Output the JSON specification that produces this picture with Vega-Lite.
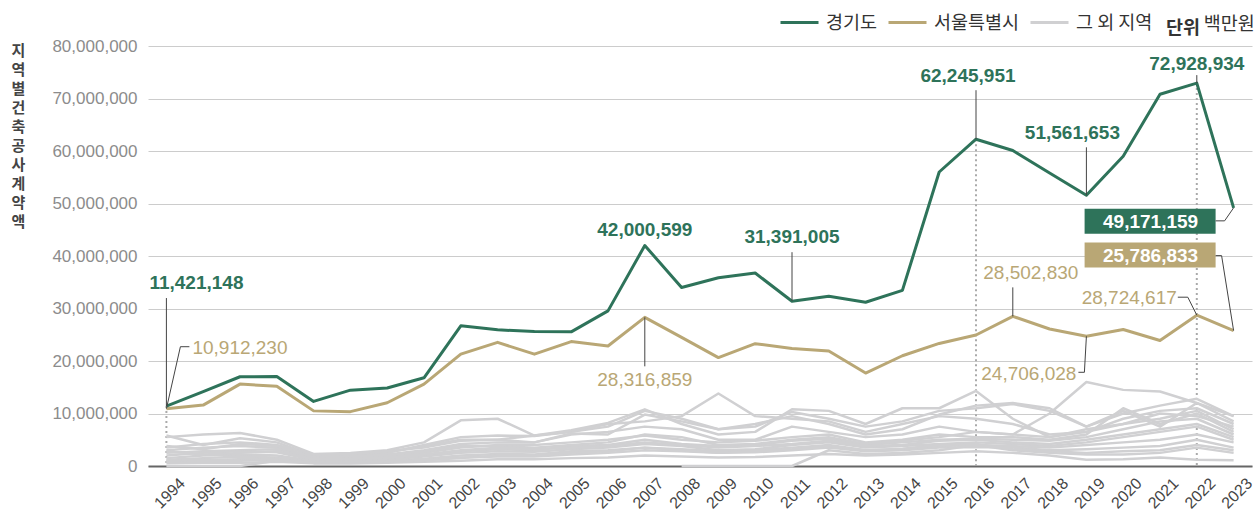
{
  "$schema": "https://vega.github.io/schema/vega-lite/v6.json",
  "width": 1104,
  "height": 420,
  "autosize": {"type": "none"},
  "padding": {"left": 148, "top": 46, "right": 8, "bottom": 45},
  "background": "white",
  "title": {"text": "백만원", "anchor": "end", "orient": "top", "font": "Noto Sans CJK KR", "fontSize": 18.5, "fontWeight": "normal", "color": "#333333", "offset": 14, "dy": 45},
  "config": {
    "view": {"stroke": null},
    "font": "Liberation Sans"
  },
  "datasets": {
    "d": [
      {"year": 1994, "gg": 11421148, "seoul": 10912230, "r1": 5500000, "r2": 3000000, "r3": 5800000, "r4": 2500000, "r5": 3500000, "r6": 2000000, "r7": 1500000, "r8": 1200000, "r9": 3800000, "r10": 2800000, "r11": 1000000, "r12": 800000, "r13": 500000, "r14": null, "r15": 0},
      {"year": 1995, "gg": 14150000, "seoul": 11600000, "r1": 6000000, "r2": 3500000, "r3": 4000000, "r4": 2800000, "r5": 4200000, "r6": 2500000, "r7": 2000000, "r8": 1500000, "r9": 3200000, "r10": 2200000, "r11": 1200000, "r12": 900000, "r13": 600000, "r14": null, "r15": 0},
      {"year": 1996, "gg": 17000000, "seoul": 15600000, "r1": 6300000, "r2": 3800000, "r3": 5300000, "r4": 3000000, "r5": 4500000, "r6": 2800000, "r7": 2200000, "r8": 1800000, "r9": 4200000, "r10": 2500000, "r11": 1300000, "r12": 1000000, "r13": 600000, "r14": null, "r15": 0},
      {"year": 1997, "gg": 17050000, "seoul": 15200000, "r1": 5000000, "r2": 3500000, "r3": 4500000, "r4": 3200000, "r5": 4000000, "r6": 2600000, "r7": 2000000, "r8": 1600000, "r9": 3800000, "r10": 2800000, "r11": 1400000, "r12": 1200000, "r13": 800000, "r14": null, "r15": 1000000},
      {"year": 1998, "gg": 12300000, "seoul": 10500000, "r1": 2300000, "r2": 1800000, "r3": 2000000, "r4": 1500000, "r5": 2200000, "r6": 1200000, "r7": 1000000, "r8": 800000, "r9": 1600000, "r10": 1300000, "r11": 700000, "r12": 600000, "r13": 500000, "r14": null, "r15": 600000},
      {"year": 1999, "gg": 14450000, "seoul": 10350000, "r1": 2500000, "r2": 2000000, "r3": 2200000, "r4": 1800000, "r5": 2300000, "r6": 1500000, "r7": 1200000, "r8": 1000000, "r9": 1800000, "r10": 1400000, "r11": 800000, "r12": 700000, "r13": 500000, "r14": null, "r15": 700000},
      {"year": 2000, "gg": 14850000, "seoul": 12050000, "r1": 3000000, "r2": 2500000, "r3": 2600000, "r4": 2200000, "r5": 2800000, "r6": 1800000, "r7": 1500000, "r8": 1200000, "r9": 2000000, "r10": 1600000, "r11": 1000000, "r12": 900000, "r13": 600000, "r14": null, "r15": 900000},
      {"year": 2001, "gg": 16800000, "seoul": 15600000, "r1": 4500000, "r2": 4000000, "r3": 3800000, "r4": 3000000, "r5": 3500000, "r6": 2500000, "r7": 2000000, "r8": 1800000, "r9": 2800000, "r10": 2200000, "r11": 1400000, "r12": 1200000, "r13": 800000, "r14": null, "r15": 1100000},
      {"year": 2002, "gg": 26700000, "seoul": 21300000, "r1": 8700000, "r2": 5500000, "r3": 5000000, "r4": 4200000, "r5": 4800000, "r6": 3500000, "r7": 2800000, "r8": 2500000, "r9": 3800000, "r10": 3000000, "r11": 2000000, "r12": 1600000, "r13": 1000000, "r14": null, "r15": 1500000},
      {"year": 2003, "gg": 25950000, "seoul": 23550000, "r1": 9000000, "r2": 5800000, "r3": 5000000, "r4": 4500000, "r5": 5000000, "r6": 4000000, "r7": 3200000, "r8": 2800000, "r9": 3800000, "r10": 3500000, "r11": 2300000, "r12": 1800000, "r13": 1300000, "r14": null, "r15": 2000000},
      {"year": 2004, "gg": 25600000, "seoul": 21300000, "r1": 5800000, "r2": 5700000, "r3": 5800000, "r4": 4500000, "r5": 4500000, "r6": 4000000, "r7": 3000000, "r8": 2700000, "r9": 3500000, "r10": 3200000, "r11": 2200000, "r12": 1800000, "r13": 1300000, "r14": null, "r15": 2000000},
      {"year": 2005, "gg": 25550000, "seoul": 23700000, "r1": 6500000, "r2": 6500000, "r3": 6800000, "r4": 6000000, "r5": 6200000, "r6": 4500000, "r7": 3800000, "r8": 3200000, "r9": 4000000, "r10": 3500000, "r11": 2800000, "r12": 2200000, "r13": 1500000, "r14": null, "r15": 2500000},
      {"year": 2006, "gg": 29550000, "seoul": 22850000, "r1": 7500000, "r2": 8000000, "r3": 8200000, "r4": 6500000, "r5": 6000000, "r6": 5000000, "r7": 4000000, "r8": 3500000, "r9": 4500000, "r10": 3800000, "r11": 3000000, "r12": 2500000, "r13": 1600000, "r14": null, "r15": 2800000},
      {"year": 2007, "gg": 42000599, "seoul": 28316859, "r1": 10500000, "r2": 8500000, "r3": 10800000, "r4": 7500000, "r5": 9800000, "r6": 5800000, "r7": 5000000, "r8": 4200000, "r9": 6000000, "r10": 4500000, "r11": 3500000, "r12": 3000000, "r13": 2000000, "r14": null, "r15": 3500000},
      {"year": 2008, "gg": 34000000, "seoul": 24500000, "r1": 9000000, "r2": 9500000, "r3": 8000000, "r4": 7000000, "r5": 8500000, "r6": 5000000, "r7": 4200000, "r8": 3800000, "r9": 5500000, "r10": 4000000, "r11": 3200000, "r12": 2800000, "r13": 1800000, "r14": 0, "r15": 3000000},
      {"year": 2009, "gg": 35850000, "seoul": 20650000, "r1": 7000000, "r2": 13800000, "r3": 6000000, "r4": 5000000, "r5": 7000000, "r6": 4500000, "r7": 3800000, "r8": 3000000, "r9": 4000000, "r10": 3500000, "r11": 2800000, "r12": 2500000, "r13": 1600000, "r14": 0, "r15": 2500000},
      {"year": 2010, "gg": 36750000, "seoul": 23300000, "r1": 7500000, "r2": 9500000, "r3": 6500000, "r4": 5000000, "r5": 8000000, "r6": 4800000, "r7": 4000000, "r8": 3200000, "r9": 4200000, "r10": 3800000, "r11": 3000000, "r12": 2600000, "r13": 1700000, "r14": 0, "r15": 2800000},
      {"year": 2011, "gg": 31391005, "seoul": 22400000, "r1": 10300000, "r2": 9000000, "r3": 10800000, "r4": 7500000, "r5": 9500000, "r6": 5500000, "r7": 4800000, "r8": 4000000, "r9": 5000000, "r10": 4200000, "r11": 3500000, "r12": 3000000, "r13": 2000000, "r14": 0, "r15": 3200000},
      {"year": 2012, "gg": 32350000, "seoul": 21900000, "r1": 9000000, "r2": 8500000, "r3": 10500000, "r4": 6500000, "r5": 8000000, "r6": 6000000, "r7": 5200000, "r8": 4500000, "r9": 5500000, "r10": 4800000, "r11": 4000000, "r12": 3500000, "r13": 2300000, "r14": 3000000, "r15": 3800000},
      {"year": 2013, "gg": 31200000, "seoul": 17700000, "r1": 7500000, "r2": 6500000, "r3": 8000000, "r4": 5500000, "r5": 6000000, "r6": 4500000, "r7": 4000000, "r8": 3500000, "r9": 4200000, "r10": 3800000, "r11": 3000000, "r12": 2800000, "r13": 2000000, "r14": 2300000, "r15": 3000000},
      {"year": 2014, "gg": 33450000, "seoul": 21000000, "r1": 8500000, "r2": 8000000, "r3": 11000000, "r4": 6000000, "r5": 7000000, "r6": 5000000, "r7": 4500000, "r8": 3800000, "r9": 4800000, "r10": 4000000, "r11": 3200000, "r12": 3000000, "r13": 2200000, "r14": 2500000, "r15": 3300000},
      {"year": 2015, "gg": 56000000, "seoul": 23350000, "r1": 10500000, "r2": 9500000, "r3": 11000000, "r4": 7500000, "r5": 9800000, "r6": 6000000, "r7": 5000000, "r8": 4200000, "r9": 5500000, "r10": 4800000, "r11": 3800000, "r12": 3500000, "r13": 2500000, "r14": 3000000, "r15": 4000000},
      {"year": 2016, "gg": 62245951, "seoul": 24950000, "r1": 11000000, "r2": 9000000, "r3": 14300000, "r4": 6500000, "r5": 11500000, "r6": 5500000, "r7": 5200000, "r8": 4500000, "r9": 6500000, "r10": 5000000, "r11": 4000000, "r12": 3600000, "r13": 2800000, "r14": 4000000, "r15": 4200000},
      {"year": 2017, "gg": 60100000, "seoul": 28502830, "r1": 11800000, "r2": 8000000, "r3": 9000000, "r4": 6000000, "r5": 12000000, "r6": 5500000, "r7": 5000000, "r8": 4200000, "r9": 6000000, "r10": 4500000, "r11": 3800000, "r12": 3500000, "r13": 2500000, "r14": 3000000, "r15": 3200000},
      {"year": 2018, "gg": 55800000, "seoul": 26100000, "r1": 10500000, "r2": 6000000, "r3": 5500000, "r4": 10000000, "r5": 11000000, "r6": 5000000, "r7": 4800000, "r8": 3800000, "r9": 5500000, "r10": 4200000, "r11": 3500000, "r12": 3000000, "r13": 2000000, "r14": 2500000, "r15": 2800000},
      {"year": 2019, "gg": 51561653, "seoul": 24706028, "r1": 7500000, "r2": 6500000, "r3": 6500000, "r4": 16000000, "r5": 7500000, "r6": 6000000, "r7": 5500000, "r8": 4500000, "r9": 7000000, "r10": 5000000, "r11": 4000000, "r12": 3200000, "r13": 1200000, "r14": 2200000, "r15": 2500000},
      {"year": 2020, "gg": 59000000, "seoul": 26000000, "r1": 10000000, "r2": 9000000, "r3": 8000000, "r4": 14500000, "r5": 10500000, "r6": 11000000, "r7": 7000000, "r8": 5500000, "r9": 8000000, "r10": 6000000, "r11": 4500000, "r12": 3500000, "r13": 1300000, "r14": 2200000, "r15": 2800000},
      {"year": 2021, "gg": 70800000, "seoul": 23900000, "r1": 11500000, "r2": 10500000, "r3": 9000000, "r4": 14200000, "r5": 7500000, "r6": 8000000, "r7": 8500000, "r8": 6500000, "r9": 10000000, "r10": 7000000, "r11": 5000000, "r12": 3800000, "r13": 1600000, "r14": 2500000, "r15": 3000000},
      {"year": 2022, "gg": 72928934, "seoul": 28724617, "r1": 12800000, "r2": 11000000, "r3": 10500000, "r4": 12000000, "r5": 12000000, "r6": 10000000, "r7": 9000000, "r8": 7500000, "r9": 9500000, "r10": 8000000, "r11": 6000000, "r12": 5000000, "r13": 1200000, "r14": 3500000, "r15": 4000000},
      {"year": 2023, "gg": 49171159, "seoul": 25786833, "r1": 9500000, "r2": 8000000, "r3": 7000000, "r4": 9500000, "r5": 8500000, "r6": 6500000, "r7": 6000000, "r8": 5000000, "r9": 7500000, "r10": 5500000, "r11": 4500000, "r12": 3500000, "r13": 1100000, "r14": 2500000, "r15": 3000000}
    ]
  },
  "data": {"name": "d"},
  "encoding": {
    "x": {
      "field": "year", "type": "ordinal",
      "scale": {"type": "point", "padding": 0.5},
      "axis": {"title": null, "labelAngle": -45, "labelAlign": "center", "labelBaseline": "middle", "labelPadding": 27, "labelOffset": 3, "labelFont": "Liberation Sans", "labelFontSize": 16, "labelColor": "#444444", "ticks": false, "tickSize": 0, "domain": true, "domainColor": "#666666", "domainWidth": 2, "grid": false}
    }
  },
  "layer": [
    {
      "transform": [{"filter": {"field": "year", "oneOf": [1994, 2016, 2022]}}],
      "mark": {"type": "rule", "color": "#aaaaaa", "strokeDash": [2, 3], "strokeWidth": 2},
      "encoding": {
        "y": {
          "field": "gg", "type": "quantitative",
          "scale": {"domain": [0, 80000000], "nice": false},
          "axis": {
            "values": [0, 10000000, 20000000, 30000000, 40000000, 50000000, 60000000, 70000000, 80000000],
            "labelExpr": "format(datum.value, ',')",
            "grid": true, "gridColor": "#cccccc", "gridWidth": 1, "domain": false, "ticks": false, "tickSize": 0,
            "labelFont": "Liberation Sans", "labelFontSize": 17, "labelColor": "#8c8c8c", "labelPadding": 11,
            "title": ["지", "역", "별", "건", "축", "공", "사", "계", "약", "액"],
            "titleAngle": 0, "titleFont": "Noto Sans CJK KR", "titleFontSize": 15, "titleFontWeight": "bold", "titleColor": "#444444",
            "titleLineHeight": 19, "titleX": -130, "titleY": -3, "titleAlign": "center", "titleBaseline": "top"
          }
        },
        "y2": {"datum": 0}
      }
    },
    {
      "transform": [{"fold": ["r1", "r2", "r3", "r4", "r5", "r6", "r7", "r8", "r9", "r10", "r11", "r12", "r13", "r14", "r15"], "as": ["region", "value"]}],
      "mark": {"type": "line", "strokeWidth": 2.5, "strokeJoin": "round"},
      "encoding": {
        "y": {"field": "value", "type": "quantitative"},
        "color": {
          "datum": "그 외 지역", "type": "nominal",
          "scale": {"domain": ["경기도", "서울특별시", "그 외 지역"], "range": ["#2e735a", "#b9a775", "#d0d0d2"]},
          "legend": {
            "orient": "none", "legendX": 631, "legendY": -44, "direction": "horizontal",
            "title": "단위", "titleOrient": "right", "titleBaseline": "line-top", "titleLineHeight": 24, "titleFont": "Noto Sans CJK KR", "titleFontWeight": "bold", "titleFontSize": 18.5, "titleColor": "#333333", "titlePadding": 14,
            "symbolType": "stroke", "symbolSize": 1444, "symbolStrokeWidth": 3,
            "labelFont": "Noto Sans CJK KR", "labelFontSize": 18.5, "labelColor": "#333333", "labelOffset": 6, "columnPadding": 4
          }
        },
        "detail": {"field": "region"}
      }
    },
    {
      "mark": {"type": "line", "strokeWidth": 3, "strokeJoin": "round"},
      "encoding": {"y": {"field": "seoul", "type": "quantitative"}, "color": {"datum": "서울특별시", "type": "nominal"}}
    },
    {
      "mark": {"type": "line", "strokeWidth": 3, "strokeJoin": "round"},
      "encoding": {"y": {"field": "gg", "type": "quantitative"}, "color": {"datum": "경기도", "type": "nominal"}}
    },
    {
      "transform": [{"filter": {"field": "year", "equal": 1994}}],
      "encoding": {"y": {"field": "gg", "type": "quantitative"}},
      "layer": [
        {"mark": {"type": "rule", "color": "#444444", "strokeWidth": 1, "y2Offset": -108}, "encoding": {"x2": {"field": "year"}, "y2": {"field": "gg"}}},
        {"mark": {"type": "text", "align": "left", "baseline": "middle", "dx": -17, "dy": -123, "fontSize": 19, "fontWeight": "bold", "color": "#2e735a"}, "encoding": {"text": {"field": "gg", "format": ","}}}
      ]
    },
    {
      "transform": [{"filter": {"field": "year", "equal": 1994}}],
      "encoding": {"y": {"field": "seoul", "type": "quantitative"}},
      "layer": [
        {"mark": {"type": "rule", "color": "#444444", "strokeWidth": 1, "x2Offset": 14, "y2Offset": -62}, "encoding": {"x2": {"field": "year"}, "y2": {"field": "seoul"}}},
        {"mark": {"type": "rule", "color": "#444444", "strokeWidth": 1, "xOffset": 14, "yOffset": -62, "x2Offset": 23, "y2Offset": -62}, "encoding": {"x2": {"field": "year"}, "y2": {"field": "seoul"}}},
        {"mark": {"type": "text", "align": "left", "baseline": "middle", "dx": 26, "dy": -61, "fontSize": 19, "color": "#b9a775"}, "encoding": {"text": {"field": "seoul", "format": ","}}}
      ]
    },
    {
      "transform": [{"filter": {"field": "year", "equal": 2007}}],
      "layer": [
        {"mark": {"type": "text", "align": "center", "baseline": "middle", "dy": -15, "fontSize": 19, "fontWeight": "bold", "color": "#2e735a"}, "encoding": {"y": {"field": "gg", "type": "quantitative"}, "text": {"field": "gg", "format": ","}}},
        {"mark": {"type": "rule", "color": "#444444", "strokeWidth": 1, "y2Offset": 49}, "encoding": {"y": {"field": "seoul", "type": "quantitative"}, "x2": {"field": "year"}, "y2": {"field": "seoul"}}},
        {"mark": {"type": "text", "align": "center", "baseline": "middle", "dy": 63, "fontSize": 19, "color": "#b9a775"}, "encoding": {"y": {"field": "seoul", "type": "quantitative"}, "text": {"field": "seoul", "format": ","}}}
      ]
    },
    {
      "transform": [{"filter": {"field": "year", "equal": 2011}}],
      "encoding": {"y": {"field": "gg", "type": "quantitative"}},
      "layer": [
        {"mark": {"type": "rule", "color": "#444444", "strokeWidth": 1, "y2Offset": -49}, "encoding": {"x2": {"field": "year"}, "y2": {"field": "gg"}}},
        {"mark": {"type": "text", "align": "center", "baseline": "middle", "dy": -64, "fontSize": 19, "fontWeight": "bold", "color": "#2e735a"}, "encoding": {"text": {"field": "gg", "format": ","}}}
      ]
    },
    {
      "transform": [{"filter": {"field": "year", "equal": 2016}}],
      "encoding": {"y": {"field": "gg", "type": "quantitative"}},
      "layer": [
        {"mark": {"type": "rule", "color": "#444444", "strokeWidth": 1, "y2Offset": -49}, "encoding": {"x2": {"field": "year"}, "y2": {"field": "gg"}}},
        {"mark": {"type": "text", "align": "center", "baseline": "middle", "dx": -8, "dy": -63, "fontSize": 19, "fontWeight": "bold", "color": "#2e735a"}, "encoding": {"text": {"field": "gg", "format": ","}}}
      ]
    },
    {
      "transform": [{"filter": {"field": "year", "equal": 2017}}],
      "encoding": {"y": {"field": "seoul", "type": "quantitative"}},
      "layer": [
        {"mark": {"type": "rule", "color": "#444444", "strokeWidth": 1, "y2Offset": -29}, "encoding": {"x2": {"field": "year"}, "y2": {"field": "seoul"}}},
        {"mark": {"type": "text", "align": "center", "baseline": "middle", "dx": 18, "dy": -43, "fontSize": 19, "color": "#b9a775"}, "encoding": {"text": {"field": "seoul", "format": ","}}}
      ]
    },
    {
      "transform": [{"filter": {"field": "year", "equal": 2019}}],
      "layer": [
        {"mark": {"type": "rule", "color": "#444444", "strokeWidth": 1, "y2Offset": -48}, "encoding": {"y": {"field": "gg", "type": "quantitative"}, "x2": {"field": "year"}, "y2": {"field": "gg"}}},
        {"mark": {"type": "text", "align": "center", "baseline": "middle", "dx": -14, "dy": -62, "fontSize": 19, "fontWeight": "bold", "color": "#2e735a"}, "encoding": {"y": {"field": "gg", "type": "quantitative"}, "text": {"field": "gg", "format": ","}}},
        {"mark": {"type": "rule", "color": "#444444", "strokeWidth": 1, "x2Offset": -2, "y2Offset": 36}, "encoding": {"y": {"field": "seoul", "type": "quantitative"}, "x2": {"field": "year"}, "y2": {"field": "seoul"}}},
        {"mark": {"type": "rule", "color": "#444444", "strokeWidth": 1, "xOffset": -2, "yOffset": 36, "x2Offset": -8, "y2Offset": 36}, "encoding": {"y": {"field": "seoul", "type": "quantitative"}, "x2": {"field": "year"}, "y2": {"field": "seoul"}}},
        {"mark": {"type": "text", "align": "right", "baseline": "middle", "dx": -10, "dy": 38, "fontSize": 19, "color": "#b9a775"}, "encoding": {"y": {"field": "seoul", "type": "quantitative"}, "text": {"field": "seoul", "format": ","}}}
      ]
    },
    {
      "transform": [{"filter": {"field": "year", "equal": 2022}}],
      "layer": [
        {"mark": {"type": "rule", "color": "#444444", "strokeWidth": 1, "y2Offset": -8}, "encoding": {"y": {"field": "gg", "type": "quantitative"}, "x2": {"field": "year"}, "y2": {"field": "gg"}}},
        {"mark": {"type": "text", "align": "center", "baseline": "middle", "dy": -19, "fontSize": 19, "fontWeight": "bold", "color": "#2e735a"}, "encoding": {"y": {"field": "gg", "type": "quantitative"}, "text": {"field": "gg", "format": ","}}},
        {"mark": {"type": "rule", "color": "#444444", "strokeWidth": 1, "x2Offset": -9, "y2Offset": -18}, "encoding": {"y": {"field": "seoul", "type": "quantitative"}, "x2": {"field": "year"}, "y2": {"field": "seoul"}}},
        {"mark": {"type": "rule", "color": "#444444", "strokeWidth": 1, "xOffset": -9, "yOffset": -18, "x2Offset": -19, "y2Offset": -18}, "encoding": {"y": {"field": "seoul", "type": "quantitative"}, "x2": {"field": "year"}, "y2": {"field": "seoul"}}},
        {"mark": {"type": "text", "align": "right", "baseline": "middle", "dx": -20, "dy": -17, "fontSize": 19, "color": "#b9a775"}, "encoding": {"y": {"field": "seoul", "type": "quantitative"}, "text": {"field": "seoul", "format": ","}}}
      ]
    },
    {
      "transform": [{"filter": {"field": "year", "equal": 2023}}],
      "layer": [
        {"mark": {"type": "rect", "color": "#2e735a", "xOffset": -149, "x2Offset": -18, "yOffset": 1, "y2Offset": 26}, "encoding": {"y": {"field": "gg", "type": "quantitative"}, "x2": {"field": "year"}, "y2": {"field": "gg"}}},
        {"mark": {"type": "rule", "color": "#444444", "strokeWidth": 1, "x2Offset": -9, "y2Offset": 13}, "encoding": {"y": {"field": "gg", "type": "quantitative"}, "x2": {"field": "year"}, "y2": {"field": "gg"}}},
        {"mark": {"type": "rule", "color": "#444444", "strokeWidth": 1, "xOffset": -9, "yOffset": 13, "x2Offset": -18, "y2Offset": 13}, "encoding": {"y": {"field": "gg", "type": "quantitative"}, "x2": {"field": "year"}, "y2": {"field": "gg"}}},
        {"mark": {"type": "text", "align": "center", "baseline": "middle", "dx": -83, "dy": 14, "fontSize": 19, "fontWeight": "bold", "color": "#ffffff"}, "encoding": {"y": {"field": "gg", "type": "quantitative"}, "text": {"field": "gg", "format": ","}}},
        {"mark": {"type": "rect", "color": "#b9a775", "xOffset": -149, "x2Offset": -18, "yOffset": -88, "y2Offset": -63}, "encoding": {"y": {"field": "seoul", "type": "quantitative"}, "x2": {"field": "year"}, "y2": {"field": "seoul"}}},
        {"mark": {"type": "rule", "color": "#444444", "strokeWidth": 1, "x2Offset": -12, "y2Offset": -75}, "encoding": {"y": {"field": "seoul", "type": "quantitative"}, "x2": {"field": "year"}, "y2": {"field": "seoul"}}},
        {"mark": {"type": "rule", "color": "#444444", "strokeWidth": 1, "xOffset": -12, "yOffset": -75, "x2Offset": -18, "y2Offset": -75}, "encoding": {"y": {"field": "seoul", "type": "quantitative"}, "x2": {"field": "year"}, "y2": {"field": "seoul"}}},
        {"mark": {"type": "text", "align": "center", "baseline": "middle", "dx": -83, "dy": -75, "fontSize": 19, "fontWeight": "bold", "color": "#ffffff"}, "encoding": {"y": {"field": "seoul", "type": "quantitative"}, "text": {"field": "seoul", "format": ","}}}
      ]
    }
  ]
}
